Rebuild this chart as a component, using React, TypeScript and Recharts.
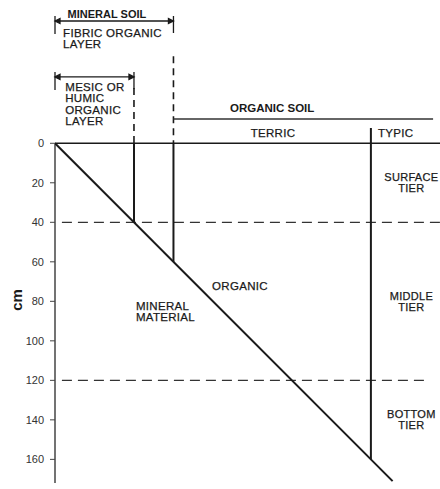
import { ComposedChart, Line, XAxis, YAxis, ReferenceLine, ReferenceDot } from "recharts";

// depth in cm, the x axis uses the same cm scale so the contact runs at 45deg
const depthTicks = [0, 20, 40, 60, 80, 100, 120, 140, 160];
const tierBounds = [0, 40, 120, 160];
const tierNames = ["SURFACE", "MIDDLE", "BOTTOM"];
const contact = [
  { x: 0, depth: 0 },
  { x: 171, depth: 171 },
];
const mesicDepth = 40;
const fibricDepth = 60;
const typicDepth = 160;

const FONT = "'Liberation Sans', Arial, Helvetica, sans-serif";
const INK = "#1a1a1a";

const textShape =
  (lines: string[], anchor: "start" | "middle", size = 11.5, bold = false) =>
  (p: any) => {
    const lh = size * 0.98;
    const first = -((lines.length - 1) * lh) / 2 + size * 0.36;
    return (
      <text
        x={p.cx}
        y={p.cy}
        textAnchor={anchor}
        fontFamily={FONT}
        fontSize={size}
        fontWeight={bold ? 700 : 400}
        letterSpacing={bold ? 0 : 0.3}
        fill={INK}
        stroke={bold ? "none" : INK}
        strokeWidth={0.25}
      >
        {lines.map((l, i) => (
          <tspan key={i} x={p.cx} dy={i === 0 ? first : lh}>
            {l}
          </tspan>
        ))}
      </text>
    );
  };

const ArrowBar = (p: any) => {
  const { x1, y1, x2, y2 } = p;
  return (
    <g stroke={INK} strokeWidth={1.3} fill={INK}>
      <line x1={x1} y1={y1} x2={x2} y2={y2} />
      <path d={`M${x1},${y1}l5,-2.5v5z`} />
      <path d={`M${x2},${y2}l-5,-2.5v5z`} />
      <line x1={x1} y1={y1 - 5} x2={x1} y2={y1 + 13} />
      <line x1={x2} y1={y2 - 5} x2={x2} y2={y2 + 12} />
    </g>
  );
};

const CmLabel = (p: any) => (
  <text
    x={p.cx}
    y={p.cy}
    transform={`rotate(-90 ${p.cx} ${p.cy})`}
    textAnchor="middle"
    dominantBaseline="central"
    fontFamily={FONT}
    fontSize={15}
    fontWeight={700}
    fill={INK}
  >
    cm
  </text>
);

export default function App() {
  return (
    <div style={{ width: 440, height: 489, background: "#fff" }}>
      <style>{"body{margin:0}"}</style>
      <ComposedChart
        width={440}
        height={489}
        data={contact}
        margin={{ top: 5, right: 0, bottom: 0, left: 0 }}
      >
        <XAxis type="number" dataKey="x" domain={[0, 195]} hide allowDataOverflow />
        <YAxis
          type="number"
          reversed
          domain={[-70, 175]}
          ticks={depthTicks}
          width={55}
          axisLine={false}
          tickSize={5}
          tickMargin={6}
          tickLine={{ stroke: "#444", strokeWidth: 1 }}
          tick={{ fill: "#333", fontSize: 11, fontFamily: FONT }}
          allowDataOverflow
        />

        {/* depth axis */}
        <ReferenceLine segment={[{ x: 0, y: 0 }, { x: 0, y: 172 }]} stroke="#444" strokeWidth={1.5} />
        {/* soil surface */}
        <ReferenceLine y={0} stroke={INK} strokeWidth={1.5} />

        {/* tier boundaries */}
        <ReferenceLine
          segment={[{ x: 3.5, y: tierBounds[1] }, { x: 195, y: tierBounds[1] }]}
          stroke="#333"
          strokeWidth={1.2}
          strokeDasharray="10 6"
        />
        <ReferenceLine
          segment={[{ x: 3.5, y: tierBounds[2] }, { x: 189, y: tierBounds[2] }]}
          stroke="#333"
          strokeWidth={1.2}
          strokeDasharray="10 6"
        />

        {/* mesic / humic layer */}
        <ReferenceLine segment={[{ x: mesicDepth, y: 0 }, { x: mesicDepth, y: mesicDepth }]} stroke={INK} strokeWidth={2} />
        <ReferenceLine
          segment={[{ x: mesicDepth, y: -28 }, { x: mesicDepth, y: 0 }]}
          stroke={INK}
          strokeWidth={1.6}
          strokeDasharray="7 5"
        />
        {/* fibric layer */}
        <ReferenceLine segment={[{ x: fibricDepth, y: 0 }, { x: fibricDepth, y: fibricDepth }]} stroke={INK} strokeWidth={2} />
        <ReferenceLine
          segment={[{ x: fibricDepth, y: -44 }, { x: fibricDepth, y: 0 }]}
          stroke={INK}
          strokeWidth={1.6}
          strokeDasharray="7 5"
        />
        {/* typic */}
        <ReferenceLine segment={[{ x: typicDepth, y: -7.7 }, { x: typicDepth, y: typicDepth }]} stroke={INK} strokeWidth={2} />

        {/* organic soil bar */}
        <ReferenceLine segment={[{ x: fibricDepth, y: -12.3 }, { x: 191.5, y: -12.3 }]} stroke="#333" strokeWidth={1.3} />

        {/* arrow spans */}
        <ReferenceLine segment={[{ x: 0, y: -61.9 }, { x: fibricDepth, y: -61.9 }]} shape={ArrowBar} />
        <ReferenceLine segment={[{ x: 0, y: -33.6 }, { x: mesicDepth, y: -33.6 }]} shape={ArrowBar} />

        <Line
          type="linear"
          dataKey="depth"
          stroke={INK}
          strokeWidth={2}
          dot={false}
          isAnimationActive={false}
        />

        {/* text */}
        <ReferenceDot x={26.3} y={-65.5} r={0} ifOverflow="visible" shape={textShape(["MINERAL SOIL"], "middle", 11, true)} />
        <ReferenceDot x={4.1} y={-53} r={0} ifOverflow="visible" shape={textShape(["FIBRIC ORGANIC", "LAYER"], "start")} />
        <ReferenceDot x={5.2} y={-19.9} r={0} ifOverflow="visible" shape={textShape(["MESIC OR", "HUMIC", "ORGANIC", "LAYER"], "start")} />
        <ReferenceDot x={110} y={-17.9} r={0} ifOverflow="visible" shape={textShape(["ORGANIC SOIL"], "middle", 11.5, true)} />
        <ReferenceDot x={110.4} y={-5.2} r={0} ifOverflow="visible" shape={textShape(["TERRIC"], "middle")} />
        <ReferenceDot x={163.6} y={-5.2} r={0} ifOverflow="visible" shape={textShape(["TYPIC"], "start")} />
        <ReferenceDot x={93.7} y={72.2} r={0} ifOverflow="visible" shape={textShape(["ORGANIC"], "middle")} />
        <ReferenceDot x={41} y={84.9} r={0} ifOverflow="visible" shape={textShape(["MINERAL", "MATERIAL"], "start")} />
        {tierNames.map((name, i) => (
          <ReferenceDot
            key={name}
            x={180.5}
            y={(tierBounds[i] + tierBounds[i + 1]) / 2}
            r={0}
            ifOverflow="visible"
            shape={textShape([name, "TIER"], "middle", 11)}
          />
        ))}
        <ReferenceDot x={-19.3} y={79.3} r={0} ifOverflow="visible" shape={CmLabel} />
      </ComposedChart>
    </div>
  );
}
